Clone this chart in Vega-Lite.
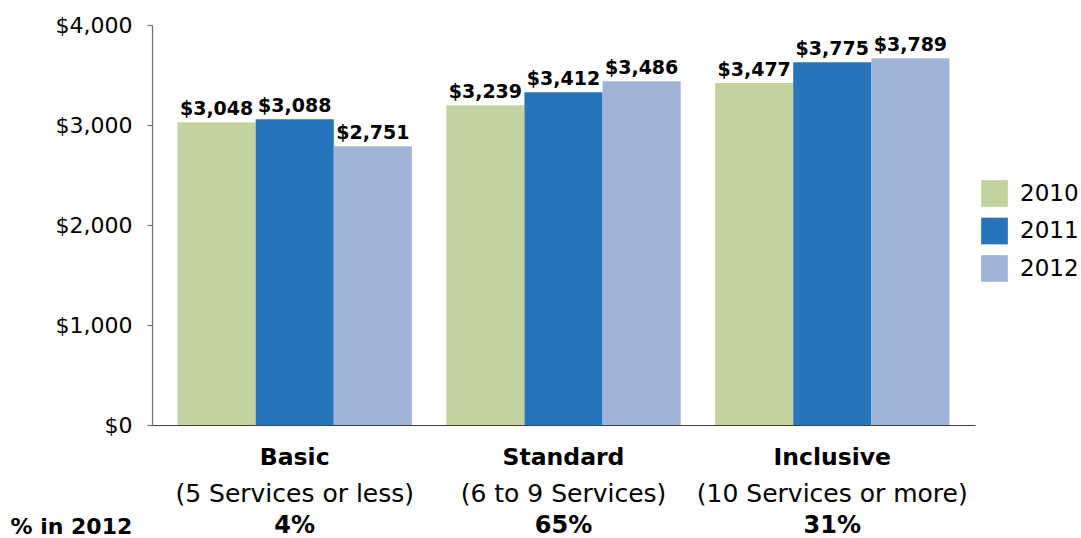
{
  "$schema": "https://vega.github.io/schema/vega-lite/v6.json",
  "width": 823,
  "height": 400,
  "autosize": {"type": "none"},
  "padding": {"left": 152, "top": 25, "right": 106, "bottom": 113},
  "background": "white",
  "config": {
    "font": "DejaVu Sans",
    "view": {"stroke": null},
    "axis": {"labelFont": "DejaVu Sans", "titleFont": "DejaVu Sans", "labelColor": "black", "titleColor": "black", "grid": false, "labelLimit": 0},
    "legend": {"labelFont": "DejaVu Sans"}
  },
  "data": {
    "values": [
      {"category": "Basic", "subtitle": "(5 Services or less)", "pct": "4%", "year": "2010", "value": 3027, "label": "$3,048"},
      {"category": "Basic", "subtitle": "(5 Services or less)", "pct": "4%", "year": "2011", "value": 3057, "label": "$3,088"},
      {"category": "Basic", "subtitle": "(5 Services or less)", "pct": "4%", "year": "2012", "value": 2787, "label": "$2,751"},
      {"category": "Standard", "subtitle": "(6 to 9 Services)", "pct": "65%", "year": "2010", "value": 3197, "label": "$3,239"},
      {"category": "Standard", "subtitle": "(6 to 9 Services)", "pct": "65%", "year": "2011", "value": 3327, "label": "$3,412"},
      {"category": "Standard", "subtitle": "(6 to 9 Services)", "pct": "65%", "year": "2012", "value": 3437, "label": "$3,486"},
      {"category": "Inclusive", "subtitle": "(10 Services or more)", "pct": "31%", "year": "2010", "value": 3420, "label": "$3,477"},
      {"category": "Inclusive", "subtitle": "(10 Services or more)", "pct": "31%", "year": "2011", "value": 3627, "label": "$3,775"},
      {"category": "Inclusive", "subtitle": "(10 Services or more)", "pct": "31%", "year": "2012", "value": 3667, "label": "$3,789"}
    ]
  },
  "resolve": {"axis": {"x": "independent"}},
  "layer": [
    {
      "mark": {"type": "bar"},
      "encoding": {
        "x": {
          "field": "category", "type": "nominal", "sort": ["Basic", "Standard", "Inclusive"],
          "scale": {"paddingInner": 0.128, "paddingOuter": 0.095},
          "axis": {
            "orient": "bottom",
            "title": null, "labelAngle": 0, "labelFontSize": 23.5, "labelFontWeight": "bold",
            "labelBaseline": "alphabetic", "labelPadding": 39.6, "ticks": false, "tickSize": 0,
            "domain": true, "domainColor": "#404040", "domainWidth": 1.2, "labelLimit": 0,
            "labelOverlap": false, "labelBound": false, "labelFlush": false
          }
        },
        "xOffset": {"field": "year", "type": "nominal", "scale": {"paddingInner": 0, "paddingOuter": 0}},
        "y": {
          "field": "value", "type": "quantitative",
          "scale": {"domain": [0, 4000], "nice": false},
          "axis": {
            "title": null, "values": [0, 1000, 2000, 3000, 4000], "format": "$,d",
            "labelFontSize": 22, "labelPadding": 15, "tickSize": 5, "tickColor": "#707070",
            "domainColor": "#707070", "domainWidth": 1.2, "tickWidth": 1.2
          }
        },
        "color": {
          "field": "year", "type": "nominal",
          "scale": {"domain": ["2010", "2011", "2012"], "range": ["#c3d3a0", "#2874bb", "#a0b4da"]},
          "legend": {
            "title": null, "orient": "none", "legendX": 829, "legendY": 155, "padding": 0,
            "symbolType": "square", "symbolSize": 713, "symbolStrokeWidth": 0, "symbolOpacity": 1,
            "labelFontSize": 23, "labelOffset": 12, "rowPadding": 10.5, "labelColor": "black"
          }
        }
      }
    },
    {
      "mark": {"type": "text", "font": "DejaVu Sans", "fontWeight": "bold", "fontSize": 19, "baseline": "alphabetic", "align": "center", "dy": -7.5, "color": "black"},
      "encoding": {
        "x": {
          "field": "category", "type": "nominal", "sort": ["Basic", "Standard", "Inclusive"],
          "axis": {
            "orient": "bottom",
            "title": null, "labelAngle": 0, "labelFontSize": 25, "labelLimit": 0,
            "labelExpr": "datum.value == 'Basic' ? '(5 Services or less)' : datum.value == 'Standard' ? '(6 to 9 Services)' : '(10 Services or more)'",
            "labelBaseline": "alphabetic", "labelPadding": 76.3, "ticks": false, "tickSize": 0, "domain": false,
            "labelOverlap": false, "labelBound": false, "labelFlush": false
          }
        },
        "xOffset": {"field": "year", "type": "nominal"},
        "y": {"field": "value", "type": "quantitative"},
        "text": {"field": "label", "type": "nominal"}
      }
    },
    {
      "mark": {"type": "tick", "opacity": 0},
      "encoding": {
        "x": {
          "field": "category", "type": "nominal", "sort": ["Basic", "Standard", "Inclusive"],
          "axis": {
            "orient": "bottom",
            "title": "% in 2012", "titleAngle": 0, "titleFontSize": 22, "titleFontWeight": "bold",
            "titleAlign": "left", "titleBaseline": "alphabetic", "titleAnchor": null, "titleX": -142, "titleY": 108,
            "labelAngle": 0, "labelFontSize": 24, "labelFontWeight": "bold", "labelLimit": 0,
            "labelExpr": "datum.value == 'Basic' ? '4%' : datum.value == 'Standard' ? '65%' : '31%'",
            "labelBaseline": "alphabetic", "labelPadding": 107, "ticks": false, "tickSize": 0, "domain": false,
            "labelOverlap": false, "labelBound": false, "labelFlush": false
          }
        },
        "y": {"field": "value", "type": "quantitative"}
      }
    }
  ]
}
